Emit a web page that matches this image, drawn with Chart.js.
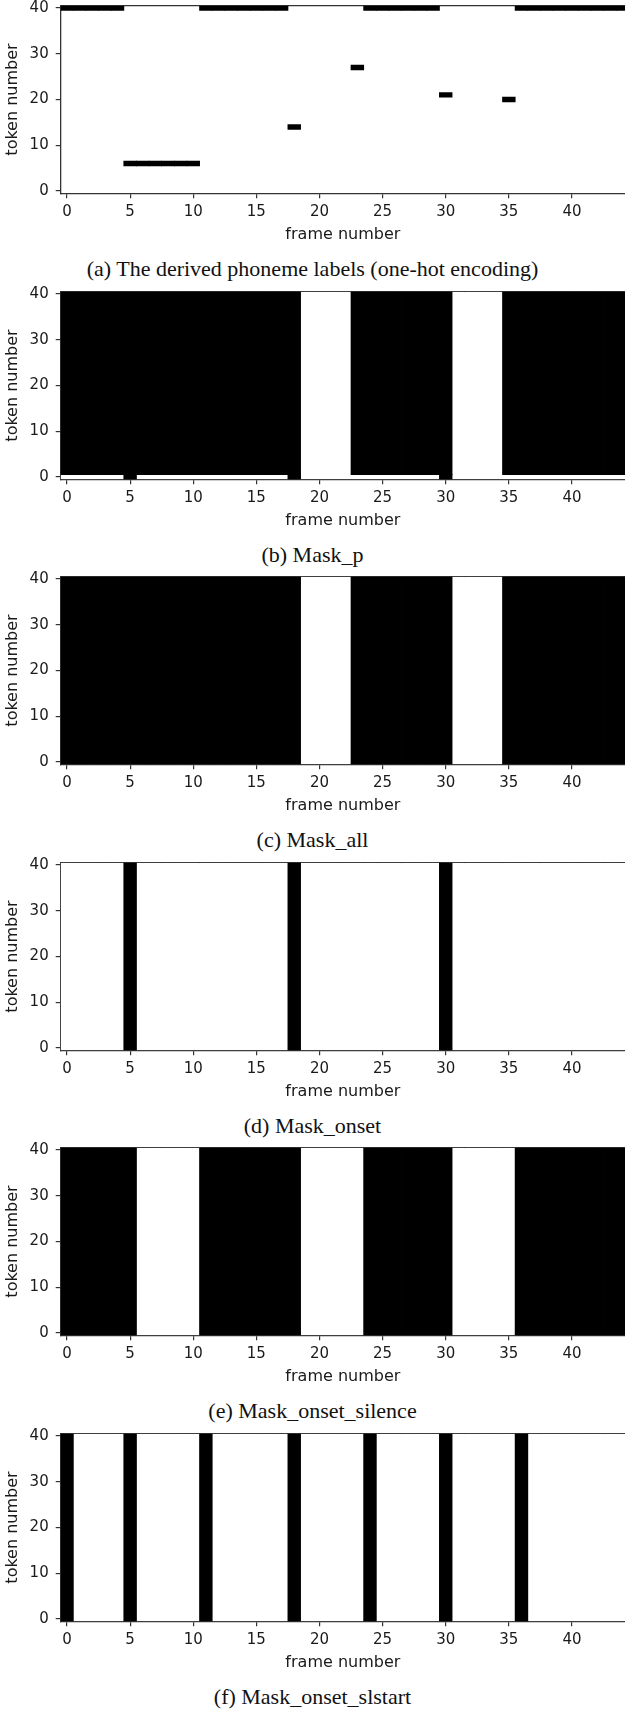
<!DOCTYPE html>
<html>
<head>
<meta charset="utf-8">
<title>Phoneme labels and masks</title>
<script src="https://cdn.jsdelivr.net/npm/chart.js@4/dist/chart.umd.min.js"></script>
<style>
    html, body { margin: 0; padding: 0; background: #ffffff; }
    #page { position: relative; width: 625px; height: 1710px; overflow: hidden; }
    .panel { position: absolute; left: 0; width: 625px; height: 286px; }
    .panel canvas { position: absolute; left: 0; top: 0; }
    .caption {
        position: absolute; left: 0; top: 255px; width: 625px;
        text-align: center; white-space: nowrap;
        font-family: "Liberation Serif", "Times New Roman", serif;
        font-size: 22px; line-height: 28px; color: #111111;
    }
</style>
</head>
<body>
<div id="page"></div>
<script>
// Frames along x, tokens along y. One value per frame in every array below.
var frames = [0, 1, 2, 3, 4, 5, 6, 7, 8, 9, 10, 11, 12, 13, 14, 15, 16, 17, 18, 19, 20, 21,
    22, 23, 24, 25, 26, 27, 28, 29, 30, 31, 32, 33, 34, 35, 36, 37, 38, 39, 40, 41, 42, 43, 44];
var frameTicks = [0, 5, 10, 15, 20, 25, 30, 35, 40];
var tokenTicks = [0, 10, 20, 30, 40];
var lowestToken = 0;
var highestToken = 40;

// (a) token that is "hot" in each frame (null = empty column)
var phonemeTokens = [40, 40, 40, 40, 40, 6, 6, 6, 6, 6, 6, 40, 40, 40, 40, 40, 40, 40, 14, null,
    null, null, null, 27, 40, 40, 40, 40, 40, 40, 21, null, null, null, null, 20, 40, 40, 40, 40,
    40, 40, 40, 40, 40];

// (b) Mask_p: token 0 and tokens 1..40 behave differently
var maskPRow0 = [0, 0, 0, 0, 0, 1, 0, 0, 0, 0, 0, 0, 0, 0, 0, 0, 0, 0, 1, 0, 0, 0, 0, 0, 0,
    0, 0, 0, 0, 0, 1, 0, 0, 0, 0, 0, 0, 0, 0, 0, 0, 0, 0, 0, 0];
var maskPOther = [1, 1, 1, 1, 1, 1, 1, 1, 1, 1, 1, 1, 1, 1, 1, 1, 1, 1, 1, 0, 0, 0, 0, 1, 1,
    1, 1, 1, 1, 1, 1, 0, 0, 0, 0, 1, 1, 1, 1, 1, 1, 1, 1, 1, 1];

// (c) - (f): whole columns
var maskAll = [1, 1, 1, 1, 1, 1, 1, 1, 1, 1, 1, 1, 1, 1, 1, 1, 1, 1, 1, 0, 0, 0, 0, 1, 1,
    1, 1, 1, 1, 1, 1, 0, 0, 0, 0, 1, 1, 1, 1, 1, 1, 1, 1, 1, 1];
var maskOnset = [0, 0, 0, 0, 0, 1, 0, 0, 0, 0, 0, 0, 0, 0, 0, 0, 0, 0, 1, 0, 0, 0, 0, 0, 0,
    0, 0, 0, 0, 0, 1, 0, 0, 0, 0, 0, 0, 0, 0, 0, 0, 0, 0, 0, 0];
var maskOnsetSilence = [1, 1, 1, 1, 1, 1, 0, 0, 0, 0, 0, 1, 1, 1, 1, 1, 1, 1, 1, 0, 0, 0, 0, 0, 1,
    1, 1, 1, 1, 1, 1, 0, 0, 0, 0, 0, 1, 1, 1, 1, 1, 1, 1, 1, 1];
var maskOnsetSlstart = [1, 0, 0, 0, 0, 1, 0, 0, 0, 0, 0, 1, 0, 0, 0, 0, 0, 0, 1, 0, 0, 0, 0, 0, 1,
    0, 0, 0, 0, 0, 1, 0, 0, 0, 0, 0, 1, 0, 0, 0, 0, 0, 0, 0, 0];

var textColor = "#1a1a1a";
var lineColor = "#333333";

document.addEventListener("DOMContentLoaded", function () {
    Chart.defaults.font.family = "DejaVu Sans";

    var panels = [
        { top: 0, caption: "(a) The derived phoneme labels (one-hot encoding)",
            datasets: oneHotDatasets(phonemeTokens) },
        { top: 286, caption: "(b) Mask_p", datasets: maskDatasets([
            { values: maskPOther, from: lowestToken + 1, to: highestToken },
            { values: maskPRow0, from: lowestToken, to: lowestToken }
        ]) },
        { top: 571, caption: "(c) Mask_all", datasets: maskDatasets([{ values: maskAll, from: lowestToken, to: highestToken }]) },
        { top: 857, caption: "(d) Mask_onset", datasets: maskDatasets([{ values: maskOnset, from: lowestToken, to: highestToken }]) },
        { top: 1142, caption: "(e) Mask_onset_silence", datasets: maskDatasets([{ values: maskOnsetSilence, from: lowestToken, to: highestToken }]) },
        { top: 1428, caption: "(f) Mask_onset_slstart", datasets: maskDatasets([{ values: maskOnsetSlstart, from: lowestToken, to: highestToken }]) }
    ];

    for (var i = 0; i < panels.length; i++) {
        drawPanel(panels[i]);
    }
});

function drawPanel(panel) {
    var page = document.getElementById("page");
    var box = document.createElement("div");
    box.className = "panel";
    box.style.top = panel.top + "px";

    var canvas = document.createElement("canvas");
    canvas.width = 625;
    canvas.height = 245;
    box.appendChild(canvas);

    var caption = document.createElement("div");
    caption.className = "caption";
    caption.textContent = panel.caption;
    box.appendChild(caption);
    page.appendChild(box);

    new Chart(canvas, {
        type: "bar",
        data: { datasets: panel.datasets },
        options: createOptions()
    });
}

// one cell per frame, black where the token is set
function oneHotDatasets(tokens) {
    var cells = [];
    for (var i = 0; i < frames.length; i++) {
        if (tokens[i] === null) {
            continue;
        }
        cells.push({ x: frames[i], y: [tokens[i] - 0.5, tokens[i] + 0.5] });
    }
    return [cellStyle(cells, "#000000", 0.4)];
}

// columns of tokens from..to for every frame: 1 goes black, 0 goes white.
// The black set comes first so it is drawn on top of the white one.
function maskDatasets(parts) {
    var ones = [];
    var zeros = [];
    for (var p = 0; p < parts.length; p++) {
        var part = parts[p];
        for (var i = 0; i < frames.length; i++) {
            var cell = { x: frames[i], y: [part.from - 0.5, part.to + 0.5] };
            if (part.values[i]) {
                ones.push(cell);
            } else {
                zeros.push(cell);
            }
        }
    }
    return [cellStyle(ones, "#000000", 0.4), cellStyle(zeros, "#ffffff", 0)];
}

function cellStyle(cells, color, inflate) {
    return {
        data: cells,
        backgroundColor: color,
        borderWidth: 0,
        borderSkipped: false,
        inflateAmount: inflate,
        barPercentage: 1,
        categoryPercentage: 1,
        grouped: false,
        xAxisID: "x",
        yAxisID: "y"
    };
}

function tickFont() {
    return { family: "DejaVu Sans", size: 15, lineHeight: 1.2 };
}

function titleFont() {
    return { family: "DejaVu Sans", size: 16, lineHeight: 1.2 };
}

function createOptions() {
    return {
        responsive: false,
        animation: false,
        events: [],
        layout: { autoPadding: false, padding: { top: 5.7, left: 0, right: 0, bottom: 0 } },
        plugins: {
            legend: { display: false },
            tooltip: { enabled: false }
        },
        scales: {
            x: {
                type: "linear",
                axis: "x",
                position: "bottom",
                min: -0.5,
                max: 44.2,
                offset: false,
                z: 1,
                grid: { offset: false, drawOnChartArea: false, tickLength: 5, lineWidth: 1.2, color: lineColor },
                border: { display: true, color: lineColor, width: 1.3 },
                ticks: { autoSkip: false, maxRotation: 0, padding: 5, color: textColor, font: tickFont() },
                title: { display: true, text: "frame number", color: textColor, font: titleFont(), padding: { top: 0, bottom: 0.6 } },
                afterBuildTicks: function (scale) {
                    scale.ticks = frameTicks.map(function (v) { return { value: v }; });
                },
                afterFit: function (scale) {
                    scale.height = 51.7;
                    scale.paddingLeft = 0;
                    scale.paddingRight = 0;
                }
            },
            top: {
                type: "linear",
                axis: "x",
                position: "top",
                min: -0.5,
                max: 44.2,
                z: 1,
                grid: { drawOnChartArea: false, drawTicks: false, lineWidth: 1.2, color: lineColor },
                border: { display: true, color: lineColor, width: 1.3 },
                ticks: { display: false },
                afterFit: function (scale) {
                    scale.height = 0;
                    scale.paddingLeft = 0;
                    scale.paddingRight = 0;
                }
            },
            y: {
                type: "linear",
                position: "left",
                min: lowestToken - 0.5,
                max: highestToken + 0.5,
                z: 1,
                grid: { drawOnChartArea: false, tickLength: 5, lineWidth: 1.2, color: lineColor },
                border: { display: true, color: lineColor, width: 1.3 },
                ticks: { padding: 7, color: textColor, font: tickFont() },
                title: { display: true, text: "token number", color: textColor, font: titleFont(), padding: { top: 3.7, bottom: 0 } },
                afterBuildTicks: function (scale) {
                    scale.ticks = tokenTicks.map(function (v) { return { value: v }; });
                },
                afterFit: function (scale) {
                    scale.width = 60.7;
                    scale.paddingTop = 0;
                    scale.paddingBottom = 0;
                }
            }
        }
    };
}
</script>
</body>
</html>
